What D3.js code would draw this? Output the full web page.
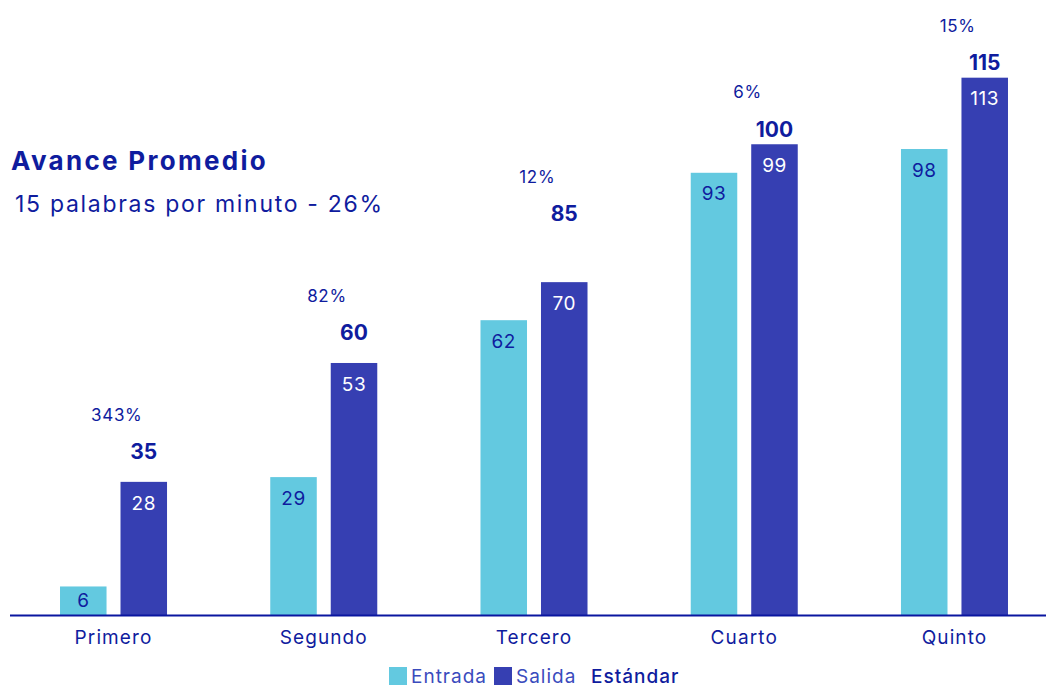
<!DOCTYPE html>
<html><head><meta charset="utf-8">
<script src="https://cdn.jsdelivr.net/npm/d3@7"></script>
<style>body{margin:0;background:#fff}svg{display:block}text{font-family:Inter,"Open Sans",sans-serif}</style>
</head><body><svg id="c" width="1046" height="687"></svg>
<script>
const categories = ["Primero","Segundo","Tercero","Cuarto","Quinto"];
const entrada = [6, 29, 62, 93, 98];
const salida = [28, 53, 70, 99, 113];
const estandar = [35, 60, 85, 100, 115];
const cambio = ["343%","82%","12%","6%","15%"];
const seriesNames = ["Entrada","Salida","Estándar"];
const title = "Avance Promedio";
const subtitle = "15 palabras por minuto - 26%";

const W = 1046, H = 687;
const cEntrada = "#63c9e0", cSalida = "#363fb2", navy = "#0f1c9e", legendTxt = "#3a4bbd";
const svg = d3.select("#c");
const baseY = 615;
const y = d3.scaleLinear().domain([0, 120]).range([baseY, baseY - 120 * 4.755]);
const x0 = d3.scaleBand().domain(categories).range([8.4, 1059.6]).paddingInner(0.491).paddingOuter(0.2455);
const x1 = d3.scaleBand().domain(["Entrada","Salida"]).range([0, x0.bandwidth()]).paddingInner(0.231);

const rows = categories.map((c, i) => ({c, e: entrada[i], s: salida[i], std: estandar[i], pct: cambio[i]}));

const g = svg.append("g");
rows.forEach(r => {
  const gx = x0(r.c);
  [["Entrada", r.e, cEntrada, navy], ["Salida", r.s, cSalida, "#ffffff"]].forEach(([k, v, col, tc]) => {
    const bx = gx + x1(k), top = y(v), h = baseY - top;
    g.append("rect").attr("x", bx).attr("y", top).attr("width", x1.bandwidth()).attr("height", h).attr("fill", col);
    g.append("text").attr("x", bx + x1.bandwidth() / 2).attr("y", top + Math.min(21, h / 2))
      .attr("dy", "0.35em").attr("text-anchor", "middle").attr("font-size", 19).attr("letter-spacing", 0.5)
      .attr("fill", tc).text(v);
  });
  const sx = gx + x1("Salida") + x1.bandwidth() / 2;
  const ly = Math.min(y(r.std) + 3, y(r.s) - 15);
  g.append("text").attr("x", sx).attr("y", ly).attr("dy", "0.35em").attr("text-anchor", "middle")
    .attr("font-size", 21).attr("font-weight", 700).attr("fill", navy).text(r.std);
  g.append("text").attr("x", sx - 27).attr("y", ly - 37).attr("dy", "0.35em").attr("text-anchor", "middle")
    .attr("font-size", 17).attr("letter-spacing", 0.7).attr("fill", navy).text(r.pct);
});

// baseline axis
const xAxis = d3.axisBottom(x0).tickSize(0).tickPadding(16);
const ax = svg.append("g").attr("transform", `translate(0,${baseY})`).call(xAxis);
ax.select(".domain").remove();
ax.selectAll("text").attr("font-size", 19).attr("letter-spacing", 1.1).attr("fill", navy).attr("font-family", "Inter, sans-serif");
svg.append("line").attr("x1", 10).attr("x2", W).attr("y1", baseY + 0.5).attr("y2", baseY + 0.5)
  .attr("stroke", "#0a16a0").attr("stroke-width", 2);

// title
svg.append("text").attr("x", 11).attr("y", 170).attr("font-size", 26).attr("font-weight", 700)
  .attr("letter-spacing", 2.3).attr("fill", navy).text(title);
svg.append("text").attr("x", 15).attr("y", 212).attr("font-size", 23).attr("letter-spacing", 1.7)
  .attr("fill", navy).text(subtitle);

// legend
const leg = svg.append("g");
const items = [{n: seriesNames[0], c: cEntrada, x: 389, t: legendTxt}, {n: seriesNames[1], c: cSalida, x: 494, t: legendTxt}, {n: seriesNames[2], c: null, x: 569, t: navy}];
items.forEach(it => {
  if (it.c) leg.append("rect").attr("x", it.x).attr("y", 667).attr("width", 18).attr("height", 18).attr("fill", it.c);
  leg.append("text").attr("x", it.x + 22).attr("y", 683).attr("font-size", 19).attr("letter-spacing", 1)
    .attr("fill", it.t).attr("font-weight", it.c ? 400 : 500).text(it.n);
});
</script></body></html>
